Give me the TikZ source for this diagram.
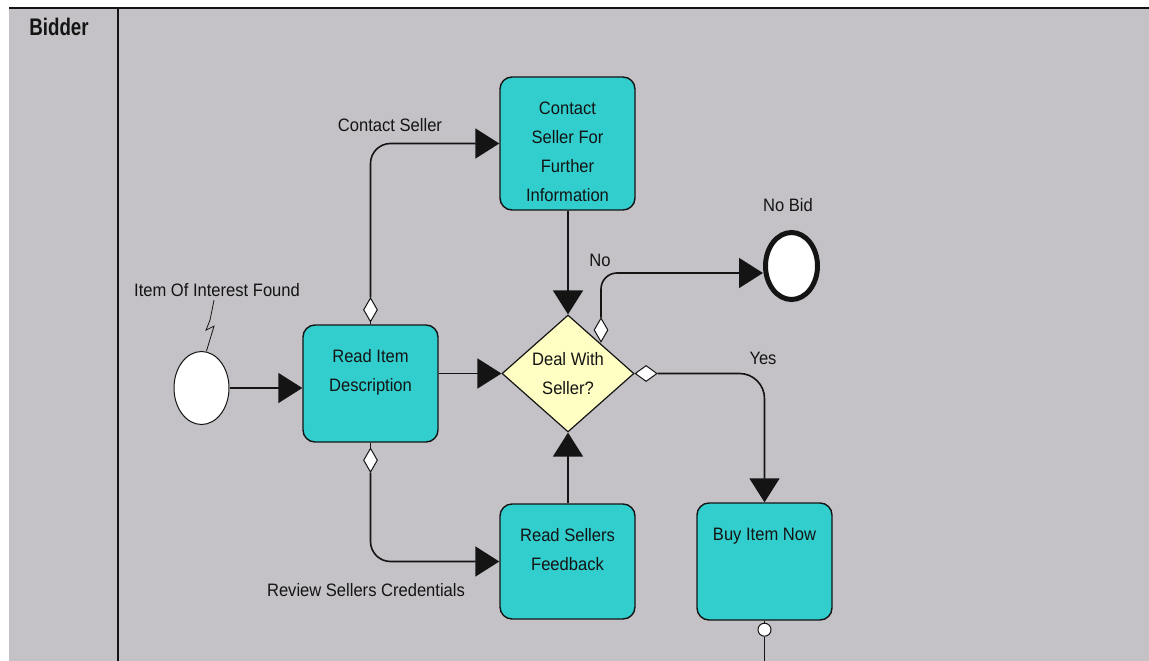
\documentclass[tikz,border=0pt]{standalone}
\usepackage{fontspec}
\setmainfont{Liberation Sans}[FakeStretch=0.92]
\newfontfamily\lanefont{Liberation Sans}[FakeStretch=0.78]
\usetikzlibrary{arrows.meta,shapes.geometric}
\definecolor{lanegray}{RGB}{196,194,198}
\definecolor{taskteal}{RGB}{50,206,206}
\definecolor{gatecream}{RGB}{255,255,196}
\definecolor{ink}{RGB}{20,20,20}
% task text: fixed-size box, first baseline 37pt below the top
\newcommand\tasktext[3]{\parbox[c][#2][t]{#1}{\centering\rule{0pt}{37pt}#3}}

\begin{document}
\begin{tikzpicture}[x=1pt,y=-1pt,
  every node/.style={font=\fontsize{18}{29}\selectfont, text=ink},
  task/.style={draw=ink, line width=1.4pt, fill=taskteal, rounded corners=12pt, inner sep=0pt},
  gate/.style={diamond, draw=ink, line width=1.2pt, fill=gatecream, minimum width=132pt, minimum height=117pt, inner sep=0pt, align=center},
  event/.style={ellipse, draw=ink, fill=white, inner sep=0pt},
  flow/.style={draw=ink, line width=1.6pt, -{Triangle[length=24pt,width=30pt]}},
  plain/.style={draw=ink, line width=1.6pt},
  mkv/.style={diamond, draw=ink, fill=white, line width=1pt, minimum width=14pt, minimum height=24pt, inner sep=0pt},
  mkh/.style={diamond, draw=ink, fill=white, line width=1pt, minimum width=22pt, minimum height=16pt, inner sep=0pt},
  mkc/.style={circle, draw=ink, fill=white, line width=1pt, minimum size=13pt, inner sep=0pt}
]
\useasboundingbox (0,0) rectangle (1149,661);

% swimlane
\fill[white] (0,0) rectangle (1149,661);
\fill[lanegray] (9,8) rectangle (1149,661);
\draw[line width=2.5pt, ink] (9,8) -- (1149,8);
\draw[line width=2pt, ink] (118,8) -- (118,661);
\node[font=\lanefont\bfseries\fontsize{24}{24}\selectfont] (lane) at (59,27) {Bidder};

% activities
\node[task] (ri) at (370.5,383.5) {\tasktext{135pt}{117pt}{Read Item\\Description}};
\node[task] (cs) at (567.5,143.5) {\tasktext{135pt}{133pt}{Contact\\Seller For\\Further\\Information}};
\node[task] (rf) at (567.5,561.5) {\tasktext{135pt}{115pt}{Read Sellers\\Feedback}};
\node[task] (bn) at (764.5,561.5) {\tasktext{135pt}{117pt}{Buy Item Now}};
\node[gate] (dm) at (568,373.5) {Deal With\\Seller?};

% events
\node[event, line width=1pt, minimum width=55pt, minimum height=73pt] (st) at (201.5,388) {};
\node[event, line width=5pt, minimum width=52pt, minimum height=67pt] (nb) at (791.5,266) {};

% labels
\node (lbl1) at (217,290) {Item Of Interest Found};
\node (lbl2) at (390,125) {Contact Seller};
\node (lbl3) at (600,260) {No};
\node (lbl4) at (788,205) {No Bid};
\node (lbl5) at (763,358) {Yes};
\node (lbl6) at (366,590) {Review Sellers Credentials};

% connector end markers
\node[mkv, anchor=south] (m1) at ([yshift=2pt]ri.north) {};
\node[mkv, anchor=north] (m2) at ([yshift=-5pt]ri.south) {};
\node[mkv] (m3) at (601,330) {};
\node[mkh, anchor=west] (m4) at (dm.east) {};
\node[mkc, anchor=north] (m5) at ([yshift=-2pt]bn.south) {};
\coordinate (exit) at (764.5,661);

% trigger
\draw[ink, line width=0.8pt] ([xshift=-3pt]lbl1.south) -- ++(-4,20) -- ++(-4,10) -- ++(8,-4) -- ([xshift=5pt]st.north);

% flows
\draw[flow] (st.east) -- (st.east -| ri.west);
\draw[flow] (ri.east |- dm.west) -- (dm.west);
\draw[plain] (ri.north) -- (m1.south);
\draw[flow, rounded corners=20pt] (m1.north) |- (cs.west);
\draw[plain] (ri.south) -- (m2.north);
\draw[flow, rounded corners=20pt] (m2.south) |- (rf.west);
\draw[flow] (cs.south -| dm.north) -- (dm.north);
\draw[flow] (rf.north -| dm.south) -- (dm.south);
\draw[flow, rounded corners=16pt] (m3.north) |- ([yshift=-7pt]nb.west);
\draw[flow, rounded corners=25pt] (m4.east) -| (bn.north);
\draw[plain] (bn.south) -- (m5.north);
\draw[plain] (m5.south) -- (exit);
\end{tikzpicture}
\end{document}
